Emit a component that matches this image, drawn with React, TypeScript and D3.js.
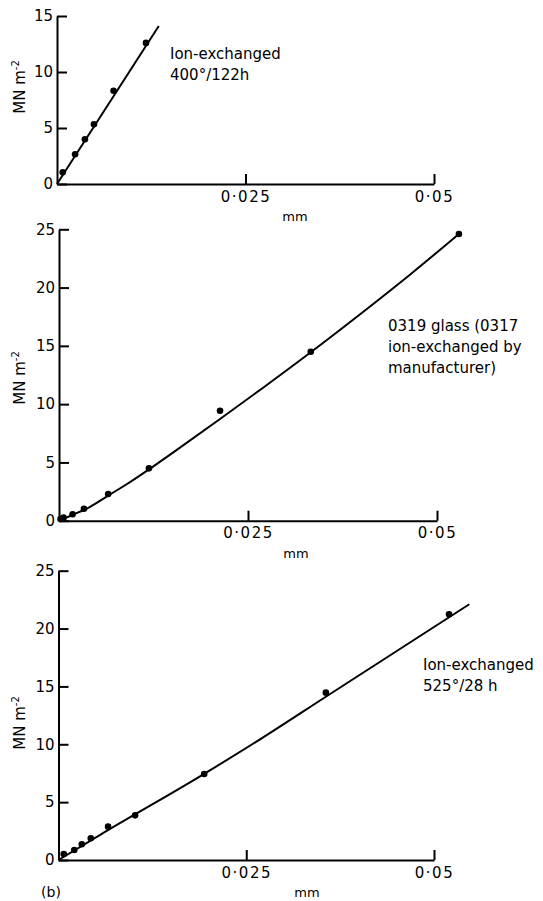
import React, { Component } from 'react'
import * as d3 from 'd3';

// stress (MN m-2) against depth (mm), three glass specimens

// panel 1 : ion-exchanged 400°/122h
const topDepth = [0.00076, 0.0024, 0.0037, 0.0049, 0.0075, 0.0118];
const topStress = [1.04, 2.65, 4.0, 5.33, 8.33, 12.6];
const topFitDepth = [0, 0.0135];
const topFitStress = [0, 14.1];

// panel 2 : 0319 glass
const midDepth = [0.0002, 0.0006, 0.0018, 0.0033, 0.0065, 0.0119, 0.0213, 0.0333, 0.0529];
const midStress = [0.15, 0.26, 0.55, 1.03, 2.29, 4.49, 9.43, 14.5, 24.6];
const midFitDepth = [0, 0.002, 0.004, 0.0065, 0.009, 0.012, 0.016, 0.0213, 0.027, 0.0333, 0.04, 0.0465, 0.0529];
const midFitStress = [0, 0.55, 1.15, 2.15, 3.15, 4.45, 6.27, 8.72, 11.41, 14.45, 17.8, 21.15, 24.6];

// panel 3 : ion-exchanged 525°/28h
const botDepth = [0.0007, 0.0021, 0.0031, 0.0043, 0.0066, 0.0102, 0.0194, 0.0356, 0.052];
const botStress = [0.52, 0.86, 1.36, 1.88, 2.88, 3.86, 7.43, 14.46, 21.24];
const botFitDepth = [0, 0.0056, 0.0189, 0.0269, 0.0357, 0.0547];
const botFitStress = [0, 2.2, 7.25, 10.45, 14.15, 22.1];

const xTicks = [0.025, 0.05];
const xTickLabels = ['0·025', '0·05'];
const yTicksSmall = [0, 5, 10, 15];
const yTicksLarge = [0, 5, 10, 15, 20, 25];
const xUnit = 'mm';

const topNote = ['Ion-exchanged', '400°/122h'];
const midNote = ['0319 glass (0317', 'ion-exchanged by', 'manufacturer)'];
const botNote = ['Ion-exchanged', '525°/28 h'];

const FONT = '"DejaVu Sans", sans-serif';

export default class App extends Component {
  componentDidMount() {
    this.drawAll();
  }

  componentDidUpdate() {
    d3.select(this.svg).selectAll('*').remove();
    this.drawAll();
  }

  drawAll = () => {
    const svg = d3.select(this.svg);
    svg.append('rect').attr('width', 543).attr('height', 901).attr('fill', '#fff');

    this.drawPanel(svg, {
      xr: [57, 434], yr: [184, 16], yMax: 15, yTicks: yTicksSmall,
      pts: [topDepth, topStress], fit: [topFitDepth, topFitStress],
      note: topNote, noteX: 170, noteY: 59, labelY: 87, mmX: 295
    });
    this.drawPanel(svg, {
      xr: [59, 437], yr: [520.7, 229.3], yMax: 25, yTicks: yTicksLarge,
      pts: [midDepth, midStress], fit: [midFitDepth, midFitStress],
      note: midNote, noteX: 388, noteY: 330.7, labelY: 378, mmX: 296
    });
    this.drawPanel(svg, {
      xr: [58.5, 434], yr: [860, 570.7], yMax: 25, yTicks: yTicksLarge,
      pts: [botDepth, botStress], fit: [botFitDepth, botFitStress],
      note: botNote, noteX: 423, noteY: 670, labelY: 723, mmX: 307
    });

    svg.append('text')
      .attr('x', 51).attr('y', 897)
      .attr('text-anchor', 'middle')
      .attr('font-family', FONT).attr('font-size', 14)
      .text('(b)');
  }

  drawPanel = (svg, p) => {
    const x = d3.scaleLinear().domain([0, 0.05]).range(p.xr);
    const y = d3.scaleLinear().domain([0, p.yMax]).range(p.yr);
    const g = svg.append('g');

    // y axis, ticks pointing inwards
    const ya = g.append('g')
      .attr('transform', 'translate(' + p.xr[0] + ',0)')
      .call(d3.axisLeft(y).tickValues(p.yTicks).tickSizeInner(-10).tickSizeOuter(0).tickPadding(4).tickFormat(d => String(d)));
    // x axis
    const xa = g.append('g')
      .attr('transform', 'translate(0,' + p.yr[0] + ')')
      .call(d3.axisBottom(x).tickValues(xTicks).tickSizeInner(-10).tickSizeOuter(0).tickPadding(7)
        .tickFormat((d, i) => xTickLabels[i]));

    [ya, xa].forEach(a => {
      a.select('.domain').attr('stroke', '#000').attr('stroke-width', 2);
      a.selectAll('.tick line').attr('stroke', '#000').attr('stroke-width', 2);
      a.selectAll('.tick text')
        .attr('fill', '#000')
        .attr('font-family', FONT)
        .attr('font-size', 15);
    });
    xa.selectAll('.tick text').attr('letter-spacing', 1.5);

    g.append('text')
      .attr('x', p.mmX).attr('y', p.yr[0] + 37)
      .attr('text-anchor', 'middle')
      .attr('font-family', FONT).attr('font-size', 13)
      .text(xUnit);

    // axis title
    const t = g.append('text')
      .attr('transform', 'translate(25,' + p.labelY + ') rotate(-90)')
      .attr('text-anchor', 'middle')
      .attr('font-family', FONT).attr('font-size', 15);
    t.append('tspan').text('MN m');
    t.append('tspan').attr('dy', -6).attr('font-size', 10).text('-2');

    // fitted curve
    const fitData = p.fit[0].map((d, i) => [d, p.fit[1][i]]);
    const line = d3.line()
      .x(d => x(d[0]))
      .y(d => y(d[1]))
      .curve(d3.curveMonotoneX);
    g.append('path')
      .datum(fitData)
      .attr('d', line)
      .attr('fill', 'none')
      .attr('stroke', '#000')
      .attr('stroke-width', 2);

    // measured points
    g.append('g')
      .selectAll('circle')
      .data(p.pts[0].map((d, i) => [d, p.pts[1][i]]))
      .join('circle')
      .attr('cx', d => x(d[0]))
      .attr('cy', d => y(d[1]))
      .attr('r', 3.3)
      .attr('fill', '#000');

    // annotation
    g.append('g')
      .selectAll('text')
      .data(p.note)
      .join('text')
      .attr('x', p.noteX)
      .attr('y', (d, i) => p.noteY + i * 21.3)
      .attr('font-family', FONT)
      .attr('font-size', 15)
      .text(d => d);
  }

  render() {
    return (
      <svg
        ref={svg => this.svg = svg}
        width={543}
        height={901}
        style={{ position: 'absolute', left: 0, top: 0 }}
      />
    );
  }
}
